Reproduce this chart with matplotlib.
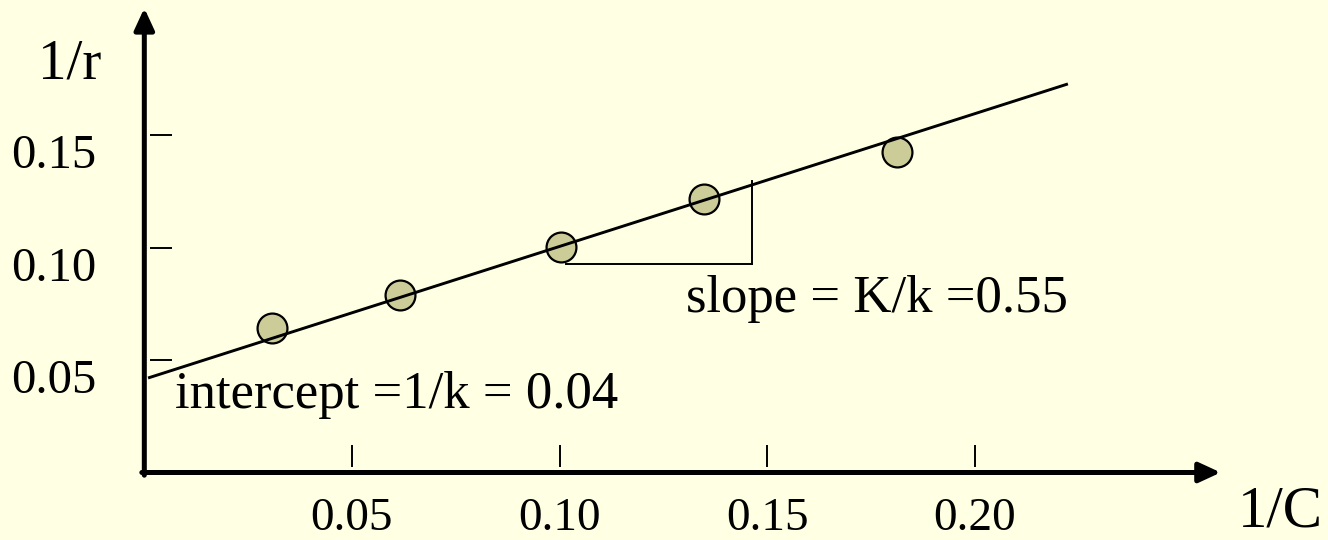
import matplotlib
matplotlib.use("Agg")
import matplotlib.pyplot as plt

plt.rcParams['font.family'] = ['Liberation Serif', 'DejaVu Serif']

# ---- data ----
point_x = [0.0308, 0.0616, 0.1003, 0.1348, 0.1812]
point_y = [0.0644, 0.0789, 0.1002, 0.1216, 0.1424]
fit_x = [0.0009, 0.2224]
fit_y = [0.0420, 0.1727]
slope_x = [0.1015, 0.1463]       # triangle horizontal leg
slope_y = [0.0927, 0.1296]       # triangle vertical leg (bottom, top)
xticks = [0.05, 0.10, 0.15, 0.20]
xtick_labels = ['0.05', '0.10', '0.15', '0.20']
yticks = [0.05, 0.10, 0.15]
ytick_labels = ['0.05', '0.10', '0.15']
x_label = '1/C'
y_label = '1/r'
slope_text = 'slope = K/k =0.55'
intercept_text = 'intercept =1/k = 0.04'

BG = '#FFFFE3'
FILL = '#CCCC99'

fig = plt.figure(figsize=(13.28, 5.4), dpi=100, facecolor=BG)
ax = fig.add_axes([0, 0, 1, 1])
ax.set_facecolor(BG)
ax.set_xlim(-0.03475, 0.28503)
ax.set_ylim(-0.03, 0.21)
ax.axis('off')

# axes with arrows
arrow = dict(arrowstyle='-|>,head_length=1.3,head_width=0.6',
             color='black', lw=3.6, shrinkA=0, shrinkB=0)
ax.annotate('', xy=(0.2592, 0), xytext=(-0.0006, 0), arrowprops=arrow)
ax.annotate('', xy=(0, 0.2064), xytext=(0, -0.0012), arrowprops=arrow)

# ticks (x: small vertical marks above axis; y: small dashes right of axis)
for xv, lab in zip(xticks, xtick_labels):
    ax.plot([xv, xv], [0.0026, 0.0122], color='black', lw=1.4, solid_capstyle='butt')
    ax.text(xv, -0.0298, lab, ha='center', va='bottom', fontsize=34)
for yv, lab in zip(yticks, ytick_labels):
    ax.plot([0.0014, 0.0067], [yv, yv], color='black', lw=1.4, solid_capstyle='butt')
    ax.annotate(lab, xy=(0, yv), xytext=(-34.5, -23.8), textcoords='offset points',
                ha='right', va='baseline', fontsize=35)

# axis labels
ax.text(-0.0256, 0.1749, y_label, ha='left', va='baseline', fontsize=41)
ax.text(0.2634, -0.0242, x_label, ha='left', va='baseline', fontsize=42.5)

# fitted line
ax.plot(fit_x, fit_y, color='black', lw=2.1, solid_capstyle='butt', zorder=3)

# data points
ax.plot(point_x, point_y, 'o', ms=21.5, mfc=FILL, mec='black', mew=1.6, zorder=2)

# slope triangle
ax.plot(slope_x, [slope_y[0], slope_y[0]], color='black', lw=1.4)
ax.plot([slope_x[1], slope_x[1]], slope_y, color='black', lw=1.4)

# annotations
ax.text(0.1304, 0.0713, slope_text, ha='left', va='baseline', fontsize=38)
ax.text(0.0074, 0.0287, intercept_text, ha='left', va='baseline', fontsize=38)

fig.savefig('out.png', dpi=100, facecolor=BG)
